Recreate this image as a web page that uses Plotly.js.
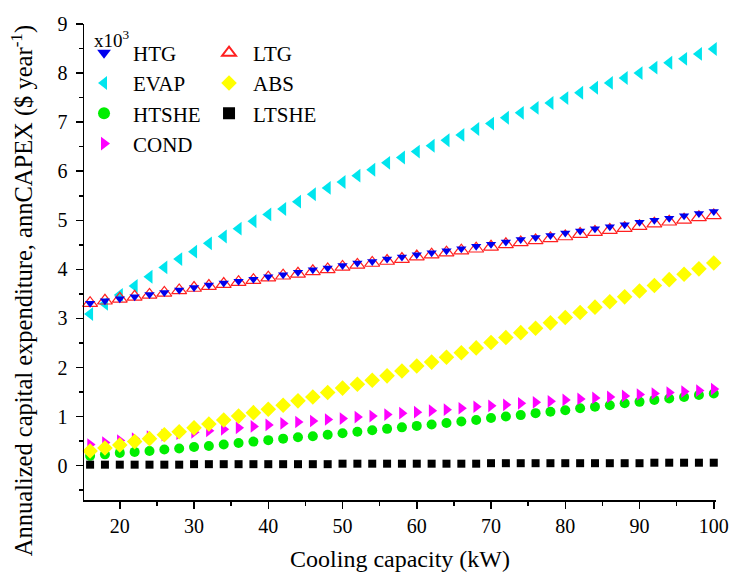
<!DOCTYPE html>
<html>
<head>
<meta charset="utf-8">
<script src="https://cdn.plot.ly/plotly-3.0.1.min.js"></script>
<style>body{margin:0;background:#fff}#chart{width:729px;height:575px}</style>
</head>
<body>
<div id="chart"></div>
<script>
const capacity = [16,18,20,22,24,26,28,30,32,34,36,38,40,42,44,46,48,50,52,54,56,58,60,62,64,66,68,70,72,74,76,78,80,82,84,86,88,90,92,94,96,98,100];
const HTG = [3.31,3.36,3.40,3.44,3.49,3.53,3.58,3.63,3.68,3.72,3.76,3.80,3.85,3.89,3.94,3.99,4.03,4.08,4.13,4.16,4.21,4.25,4.30,4.34,4.38,4.42,4.47,4.51,4.56,4.61,4.65,4.69,4.74,4.78,4.83,4.87,4.91,4.96,5.00,5.04,5.09,5.14,5.18];
const LTG = [3.31,3.36,3.40,3.44,3.48,3.52,3.57,3.62,3.66,3.70,3.74,3.78,3.83,3.87,3.91,3.96,4.00,4.05,4.09,4.13,4.17,4.21,4.26,4.30,4.34,4.38,4.42,4.46,4.51,4.55,4.59,4.63,4.67,4.72,4.76,4.80,4.84,4.88,4.93,4.97,5.01,5.06,5.10];
const EVAP = [3.09,3.30,3.48,3.66,3.85,4.04,4.21,4.36,4.53,4.67,4.83,4.98,5.12,5.23,5.38,5.53,5.66,5.78,5.91,6.03,6.17,6.28,6.40,6.52,6.63,6.74,6.86,6.97,7.09,7.19,7.29,7.39,7.49,7.60,7.70,7.80,7.90,8.00,8.11,8.21,8.29,8.39,8.49];
const ABS = [0.30,0.36,0.42,0.49,0.55,0.63,0.69,0.77,0.85,0.93,1.01,1.08,1.15,1.23,1.32,1.40,1.49,1.58,1.66,1.74,1.83,1.93,2.03,2.11,2.21,2.30,2.40,2.51,2.61,2.71,2.80,2.91,3.02,3.12,3.23,3.34,3.44,3.56,3.67,3.79,3.90,4.01,4.13];
const HTSHE = [0.20,0.23,0.26,0.28,0.30,0.33,0.35,0.38,0.40,0.43,0.46,0.49,0.52,0.55,0.58,0.60,0.63,0.66,0.69,0.72,0.75,0.78,0.81,0.84,0.87,0.90,0.93,0.97,1.00,1.03,1.07,1.10,1.13,1.17,1.20,1.23,1.27,1.30,1.34,1.37,1.40,1.44,1.47];
const LTSHE = [0.02,0.02,0.02,0.02,0.02,0.02,0.02,0.03,0.03,0.03,0.03,0.03,0.03,0.03,0.03,0.03,0.03,0.04,0.04,0.04,0.04,0.04,0.04,0.04,0.04,0.04,0.04,0.05,0.05,0.05,0.05,0.05,0.05,0.05,0.05,0.05,0.05,0.05,0.06,0.06,0.06,0.06,0.06];
const COND = [0.43,0.47,0.51,0.55,0.59,0.62,0.65,0.68,0.71,0.74,0.77,0.80,0.83,0.86,0.89,0.91,0.94,0.96,0.99,1.01,1.04,1.07,1.09,1.12,1.14,1.17,1.20,1.22,1.24,1.27,1.29,1.31,1.34,1.36,1.38,1.40,1.42,1.45,1.47,1.49,1.51,1.53,1.56];

const FONT = "'Liberation Serif', 'DejaVu Serif', serif";

function tr(name, y, marker, legend, rank) {
  return {x: capacity, y: y, name: name, type: 'scatter', mode: 'markers',
          marker: marker, legend: legend, legendrank: rank, cliponaxis: false};
}

const data = [
  tr('HTSHE', HTSHE, {symbol: 'circle', size: 10, color: '#00ee00'}, 'legend', 3),
  tr('LTSHE', LTSHE, {symbol: 'square', size: 8, color: '#000000'}, 'legend2', 3),
  tr('COND', COND, {symbol: 'triangle-right', size: 11, color: '#ff00ff'}, 'legend', 4),
  tr('ABS', ABS, {symbol: 'diamond', size: 12, color: '#ffff00'}, 'legend2', 2),
  tr('EVAP', EVAP, {symbol: 'triangle-left', size: 12, color: '#00e5ee'}, 'legend', 2),
  tr('LTG', LTG, {symbol: 'triangle-up-open', size: 13, color: '#ff2020', line: {width: 1.2}}, 'legend2', 1),
  tr('HTG', HTG, {symbol: 'triangle-down', size: 9, color: '#0000ee'}, 'legend', 1)
];

const legendCommon = {
  bgcolor: 'rgba(0,0,0,0)', borderwidth: 0,
  font: {family: FONT, size: 21, color: '#000'},
  traceorder: 'normal', itemsizing: 'constant',
  tracegroupgap: 0, xanchor: 'left', yanchor: 'top'
};

const layout = {
  width: 729, height: 575,
  margin: {l: 84, r: 13, t: 24, b: 75},
  paper_bgcolor: '#ffffff', plot_bgcolor: '#ffffff',
  font: {family: FONT, size: 20, color: '#000'},
  showlegend: true,
  legend: Object.assign({}, legendCommon, {x: -0.0142, y: 0.982, itemwidth: 48}),
  legend2: Object.assign({}, legendCommon, {x: 0.1915, y: 0.982, itemwidth: 38}),
  xaxis: {
    range: [15.18, 100.3], tickmode: 'array', tickvals: [20,30,40,50,60,70,80,90,100],
    ticks: 'outside', ticklen: 7, tickwidth: 1.5, tickcolor: '#000',
    minor: {dtick: 5, tick0: 0, ticks: 'outside', ticklen: 4, tickwidth: 1.5, tickcolor: '#000'},
    showline: true, linecolor: '#000', linewidth: 1.5, showgrid: false, zeroline: false,
    tickfont: {family: FONT, size: 20}, mirror: false,
    title: {text: 'Cooling capacity (kW)', font: {family: FONT, size: 24}, standoff: 14}
  },
  yaxis: {
    range: [-0.70, 9.0], tickmode: 'array', tickvals: [0,1,2,3,4,5,6,7,8,9],
    ticks: 'outside', ticklen: 7, tickwidth: 1.5, tickcolor: '#000', ticklabelstandoff: 4,
    minor: {dtick: 0.5, tick0: 0, ticks: 'outside', ticklen: 4, tickwidth: 1.5, tickcolor: '#000'},
    showline: true, linecolor: '#000', linewidth: 1.5, showgrid: false, zeroline: false,
    tickfont: {family: FONT, size: 20}
  },
  annotations: [
    {xref: 'paper', yref: 'paper', x: 0.013, y: 0.998, xanchor: 'left', yanchor: 'top', showarrow: false,
     text: 'x10<sup>3</sup>', font: {family: FONT, size: 19, color: '#000'}},
    {xref: 'paper', yref: 'paper', x: -0.097, y: 0.44, xanchor: 'center', yanchor: 'middle', showarrow: false,
     textangle: -90, text: 'Annualized capital expenditure, annCAPEX ($ year<sup>-1</sup>)',
     font: {family: FONT, size: 24.5, color: '#000'}}
  ]
};

Plotly.newPlot('chart', data, layout, {displayModeBar: false, staticPlot: true});
</script>
</body>
</html>
